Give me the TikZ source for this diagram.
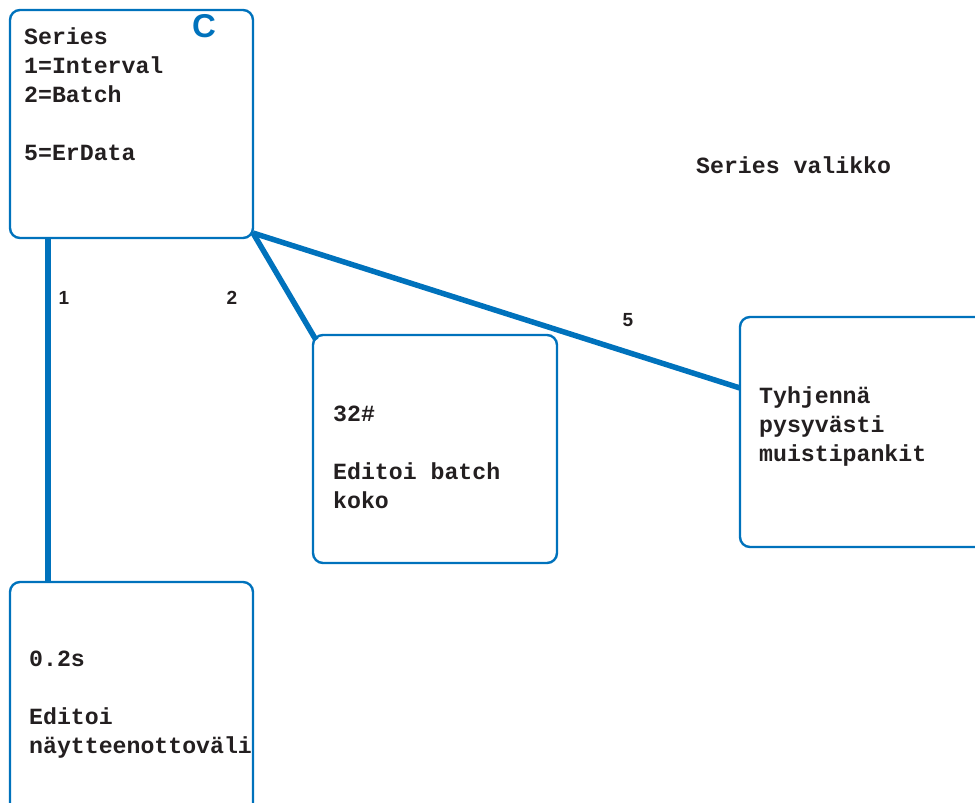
\documentclass[tikz,border=0pt]{standalone}
\usepackage{fontspec}
\setmainfont{Liberation Sans}
\setsansfont{Liberation Sans}
\setmonofont{Liberation Mono}
\definecolor{lineblue}{RGB}{0,114,188}
\definecolor{ink}{RGB}{35,31,32}
\tikzset{
  box/.style={draw=lineblue, line width=2.4pt, rounded corners=10pt},
  link/.style={draw=lineblue, line width=5.5pt},
  txt/.style={anchor=base west, inner sep=0pt, align=left, text=ink,
    font=\ttfamily\bfseries\fontsize{23.2}{28.8}\selectfont},
  num/.style={inner sep=0pt, text=ink, font=\sffamily\bfseries\fontsize{19}{20}\selectfont},
}
\begin{document}
\begin{tikzpicture}[x=1pt,y=-1pt]
\useasboundingbox (0,0) rectangle (975,803);
\clip (0,0) rectangle (975,803);
% boxes
\draw[box] (10,10) rectangle (253,238);
\draw[box] (313,335) rectangle (557,563);
\draw[box] (740,317) rectangle (1000,547);
\draw[box] (10,582) rectangle (253,830);
\coordinate (cBot) at (48,238);
\coordinate (cCorner) at (253,233);
\coordinate (bTop) at (48,582);
\coordinate (batchCorner) at (316,340);
\coordinate (erLeft) at (740,388);
% connectors
\draw[link] (cBot) -- (bTop);
\draw[link] (cCorner) -- (batchCorner);
\draw[link] (cCorner) -- (erLeft);
% texts (anchored at the baseline of their last line)
\node[txt] (tC) at (24,160) {Series\\1=Interval\\2=Batch\\[28.8pt]5=ErData};
\node[txt] (tBatch) at (333,508) {32\#\\[28.8pt]Editoi batch\\koko};
\node[txt] (tEr) at (759,461) {Tyhjennä\\pysyvästi\\muistipankit};
\node[txt] (tInt) at (29,753) {0.2s\\[28.8pt]Editoi\\näytteenottoväli};
\node[txt] (tTitle) at (696,173) {Series valikko};
\node[inner sep=0pt, text=lineblue, font=\sffamily\bfseries\fontsize{33}{36}\selectfont] (cLetter) at (204,26) {C};
\node[num] (n1) at (64,298) {1};
\node[num] (n2) at (232,298) {2};
\node[num] (n5) at (628,320) {5};
\end{tikzpicture}
\end{document}
